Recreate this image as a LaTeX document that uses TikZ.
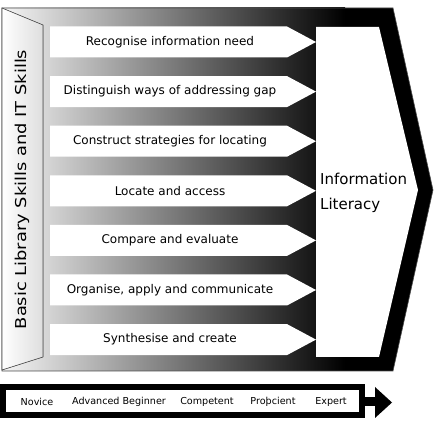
\documentclass[tikz,border=0pt]{standalone}
\usepackage{fontspec}
\setmainfont{DejaVu Sans}
\usepackage{graphicx}
\begin{document}
\begin{tikzpicture}[x=1pt,y=-1pt,
  stepbox/.style={fill=white},
  steptext/.style={font=\fontsize{12}{14}\selectfont, anchor=center, inner sep=0pt},
  leveltext/.style={font=\fontsize{9.6}{11}\selectfont, anchor=center, inner sep=0pt},
  outline/.style={draw=black!70, line width=0.6pt}]
\useasboundingbox (0,0) rectangle (437,422);
% outer chevron (black band)
\fill[black] (2,8) -- (393,8) -- (433,190) -- (393,371) -- (2,371) -- cycle;
% gradient background
\fill[left color=black!4, right color=black] (2,8) rectangle (345,371);
\draw[outline] (2,8) -- (393,8) -- (433,190) -- (393,371) -- (2,371) -- cycle;
% left panel
\filldraw[left color=white, right color=black!13, outline] (2,8) -- (43,25) -- (43,357) -- (2,370) -- cycle;
\node[rotate=90, font=\fontsize{15}{18}\selectfont, inner sep=0pt] (basic) at (22,189.5)
  {\scalebox{1.19}[1]{Basic Library Skills and IT Skills}};
% step arrows
\foreach \t [count=\i from 0] in {Recognise information need,
    Distinguish ways of addressing gap,
    Construct strategies for locating,
    Locate and access,
    Compare and evaluate,
    {Organise, apply and communicate},
    Synthesise and create} {
  \pgfmathsetmacro\yc{42+49.6*\i}
  \fill[stepbox] (50,\yc-15.5) -- (287,\yc-15.5) -- (316,\yc) -- (287,\yc+15.5) -- (50,\yc+15.5) -- cycle;
  \node[steptext] (s\i) at (170,\yc) {\t};
}
% information literacy box
\fill[white] (316,27) -- (379,27) -- (418,190) -- (379,357) -- (316,357) -- cycle;
\node[anchor=west, align=left, font=\fontsize{15}{25}\selectfont, inner sep=0pt] (il) at (320,192.5)
  {Information\\Literacy};
% bottom progression arrow
\draw[line width=5.5pt] (3,387) rectangle (362,415);
\fill[black] (362,397) rectangle (376,406);
\fill[black] (375,387) -- (392,402.5) -- (375,418) -- cycle;
\node[leveltext] (l1) at (37,402) {Novice};
\node[leveltext] (l2) at (119,402) {Advanced Beginner};
\node[leveltext] (l3) at (207,402) {Competent};
\node[leveltext] (l4) at (273,402) {Proþcient};
\node[leveltext] (l5) at (331,402) {Expert};
\end{tikzpicture}
\end{document}
